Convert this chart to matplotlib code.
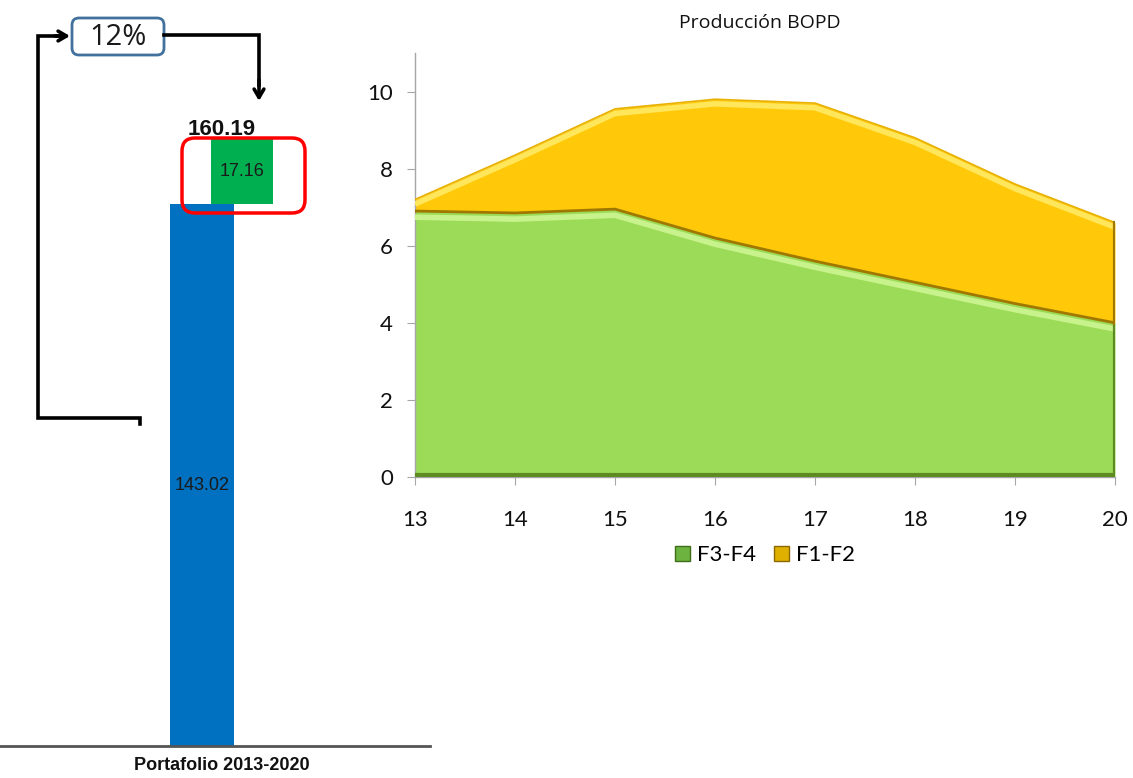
import matplotlib
matplotlib.use("Agg")
import matplotlib.pyplot as plt
from matplotlib.patches import FancyBboxPatch, Patch

# ---- data ----
years = [13, 14, 15, 16, 17, 18, 19, 20]
f3_f4 = [6.9, 6.85, 6.95, 6.2, 5.6, 5.05, 4.5, 4.0]
f1_f2 = [0.3, 1.5, 2.6, 3.6, 4.1, 3.75, 3.1, 2.6]
series_names = ["F3-F4", "F1-F2"]

portfolio_label = "Portafolio 2013-2020"
base_value = 143.02
increment_value = 17.16
total_value = 160.19
growth_label = "12%"

title_text = "Producción BOPD"

TICKFONT = ["Lato", "DejaVu Sans"]
ARIAL = ["Liberation Sans", "DejaVu Sans"]

W, H = 1133, 778
fig = plt.figure(figsize=(W / 100, H / 100), dpi=100)
fig.patch.set_facecolor("white")


def px_axes(x0, y0, x1, y1):
    """Axes placed by pixel box (top-left origin)."""
    return fig.add_axes([x0 / W, 1 - y1 / H, (x1 - x0) / W, (y1 - y0) / H])


# ---- left: waterfall bar ----
axb = px_axes(0, 87, 430, 746)
axb.set_xlim(-1.11, 1.04)
axb.set_ylim(0, 173.9)
axb.bar(-0.1, base_value, width=0.32, color="#0070C0", zorder=2)
axb.bar(0.1, increment_value, bottom=base_value, width=0.31, color="#00B050", zorder=2)
axb.text(-0.1, base_value * 0.48, f"{base_value:.2f}", ha="center", va="center",
         fontsize=13, family=ARIAL, color="#1a1a1a")
axb.text(0.1, base_value + increment_value / 2, f"{increment_value:.2f}", ha="center",
         va="center", fontsize=13, family=ARIAL, color="#1a1a1a")
axb.text(0.0, total_value - 0.2, f"{total_value:.2f}", ha="center", va="bottom",
         fontsize=16, fontweight="bold", family=ARIAL, color="#111111")
for s in ["top", "left", "right"]:
    axb.spines[s].set_visible(False)
axb.spines["bottom"].set_color("#555555")
axb.spines["bottom"].set_linewidth(2)
axb.set_yticks([])
axb.set_xticks([0.0])
axb.set_xticklabels([portfolio_label], fontsize=13, fontweight="bold", family=ARIAL,
                    color="#111111")
axb.tick_params(axis="x", length=0, pad=8)
axb.patch.set_visible(False)

# ---- right: stacked area ----
ax = px_axes(415, 53, 1115, 477)
top = [a + b for a, b in zip(f3_f4, f1_f2)]
green, green_hi, green_dk = "#9BDB57", "#C8F38C", "#5E8A22"
gold, gold_hi, gold_dk = "#FFC90A", "#FFE65A", "#A07800"

ax.fill_between(years, 0, f3_f4, color=green, lw=0, zorder=2)
ax.fill_between(years, f3_f4, top, color=gold, lw=0, zorder=2)
# bevel highlights and edges
ax.plot(years, [v - 0.16 for v in f3_f4], color=green_hi, lw=4, zorder=3,
        solid_capstyle="butt")
ax.plot(years, [v - 0.12 for v in top], color=gold_hi, lw=4, zorder=3,
        solid_capstyle="butt")
ax.plot(years, top, color="#E8B000", lw=1.2, zorder=4)
ax.plot(years, f3_f4, color=gold_dk, lw=2, zorder=4)
ax.plot([years[-1], years[-1]], [0, f3_f4[-1]], color=green_dk, lw=3, zorder=4)
ax.plot([years[-1], years[-1]], [f3_f4[-1], top[-1]], color=gold_dk, lw=3, zorder=4)
ax.plot([years[0], years[-1]], [0.05, 0.05], color=green_dk, lw=3, zorder=4)

ax.set_xlim(13, 20)
ax.set_ylim(0, 11)
ax.set_xticks(years)
ax.set_yticks([0, 2, 4, 6, 8, 10])
for s in ["top", "right"]:
    ax.spines[s].set_visible(False)
for s in ["left", "bottom"]:
    ax.spines[s].set_color("#A6A6A6")
    ax.spines[s].set_linewidth(1)
ax.tick_params(axis="both", colors="#A6A6A6", length=6, labelcolor="#111111",
               labelsize=16)
ax.tick_params(axis="x", pad=18)
ax.tick_params(axis="y", pad=10)
for lab in ax.get_xticklabels() + ax.get_yticklabels():
    lab.set_family(TICKFONT)
ax.patch.set_visible(False)

handles = [Patch(facecolor="#6DB33F", edgecolor="#3F6E1A", label=series_names[0]),
           Patch(facecolor="#E0B000", edgecolor="#8A6A00", label=series_names[1])]
ax.legend(handles=handles, loc="center", bbox_to_anchor=(0.5, -0.185), ncol=2,
          frameon=False, prop={"family": TICKFONT, "size": 16}, handlelength=0.7,
          handleheight=0.7, handletextpad=0.3, columnspacing=0.8)

fig.text(760 / W, 1 - 23 / H, title_text, ha="center", va="center", fontsize=14,
         family=["Open Sans", "DejaVu Sans"], color="#111111")

# ---- overlay: growth callout and connectors ----
ov = fig.add_axes([0, 0, 1, 1], zorder=10)
ov.set_xlim(0, W)
ov.set_ylim(H, 0)
ov.axis("off")
ov.patch.set_visible(False)

lw_c = 2.6
arrow = dict(arrowstyle="->,head_length=0.6,head_width=0.35", color="black",
             lw=lw_c, shrinkA=0, shrinkB=0)
ov.plot([140, 140, 38, 38, 60], [424, 418, 418, 36, 36], color="black", lw=lw_c,
        solid_joinstyle="miter")
ov.annotate("", xy=(70, 36), xytext=(55, 36), arrowprops=arrow)
ov.plot([164, 259, 259], [35, 35, 85], color="black", lw=lw_c, solid_joinstyle="miter")
ov.annotate("", xy=(259, 101), xytext=(259, 80), arrowprops=arrow)

box = FancyBboxPatch((72, 18), 92, 37, boxstyle="round,pad=0,rounding_size=7",
                     facecolor="white", edgecolor="#41719C", lw=2)
ov.add_patch(box)
ov.text(118, 37, growth_label, ha="center", va="center", fontsize=21,
        family=["Open Sans", "DejaVu Sans"], color="#1a1a1a")

red = FancyBboxPatch((182, 138), 123, 75, boxstyle="round,pad=0,rounding_size=13",
                     facecolor="none", edgecolor="#FF0000", lw=2.5)
ov.add_patch(red)

fig.savefig("out.png", dpi=100)
